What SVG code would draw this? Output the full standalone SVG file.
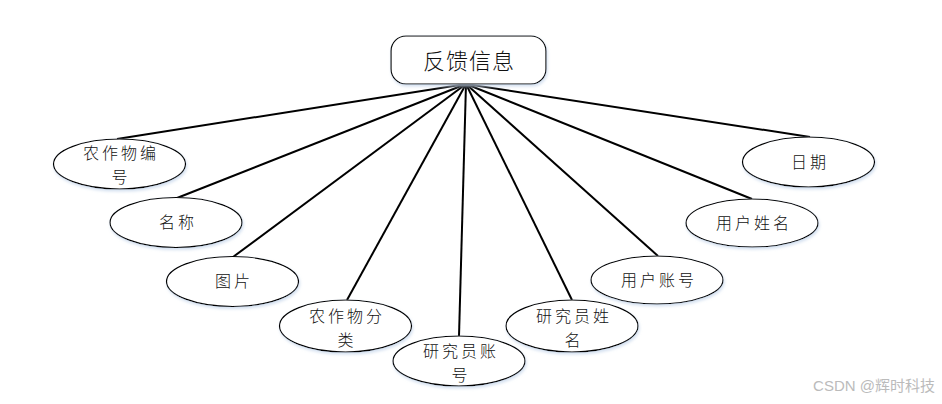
<svg xmlns="http://www.w3.org/2000/svg" width="942" height="404" viewBox="0 0 942 404">
<defs>
<filter id="glow" x="-20%" y="-20%" width="140%" height="140%">
<feDropShadow dx="1" dy="2" stdDeviation="1.5" flood-color="#c8d8ec" flood-opacity="0.8"/>
</filter>
</defs>
<style>
.edge{stroke:#000;stroke-width:2;fill:none}
.ell{fill:#fff;stroke:#000;stroke-width:1.2;filter:url(#glow)}
.lbl{font-family:"Noto Sans CJK SC","Liberation Sans",sans-serif;font-size:16px;font-weight:300;fill:#111;text-anchor:middle;letter-spacing:3px}
.title{font-family:"Noto Sans CJK SC","Liberation Sans",sans-serif;font-size:22px;font-weight:300;fill:#111;text-anchor:middle;letter-spacing:1px}
.wm{font-family:"Liberation Sans","Noto Sans CJK SC",sans-serif;font-size:15px;fill:#bbb;text-anchor:end}
</style>
<rect width="942" height="404" fill="#fff"/>
<g id="connectors">
<line class="edge" x1="466" y1="84" x2="117" y2="139"/>
<line class="edge" x1="466" y1="84" x2="177" y2="198"/>
<line class="edge" x1="466" y1="84" x2="233" y2="257"/>
<line class="edge" x1="466" y1="84" x2="347" y2="300"/>
<line class="edge" x1="466" y1="84" x2="459" y2="336"/>
<line class="edge" x1="466" y1="84" x2="572" y2="300"/>
<line class="edge" x1="466" y1="84" x2="658" y2="256"/>
<line class="edge" x1="466" y1="84" x2="752" y2="199"/>
<line class="edge" x1="466" y1="84" x2="810" y2="137"/>
</g>
<g id="feedback">
<rect x="391" y="36" width="155" height="48" rx="15" fill="#fff" stroke="#000" stroke-width="1.2" filter="url(#glow)"/>
<text class="title" x="469" y="69">反馈信息</text>
</g>
<g id="crop_no">
<ellipse class="ell" cx="119.5" cy="164" rx="66" ry="25"/>
<text class="lbl" x="121" y="159">农作物编</text>
<text class="lbl" x="121" y="183">号</text>
</g>
<g id="name">
<ellipse class="ell" cx="176" cy="222.5" rx="66" ry="25"/>
<text class="lbl" x="178" y="228">名称</text>
</g>
<g id="picture">
<ellipse class="ell" cx="232.5" cy="281.5" rx="66" ry="25"/>
<text class="lbl" x="234" y="287">图片</text>
</g>
<g id="crop_cat">
<ellipse class="ell" cx="345.5" cy="326" rx="66" ry="26"/>
<text class="lbl" x="347" y="322">农作物分</text>
<text class="lbl" x="347" y="346">类</text>
</g>
<g id="res_no">
<ellipse class="ell" cx="459" cy="361" rx="66" ry="25"/>
<text class="lbl" x="461" y="357">研究员账</text>
<text class="lbl" x="461" y="381">号</text>
</g>
<g id="res_name">
<ellipse class="ell" cx="572" cy="326" rx="66" ry="26"/>
<text class="lbl" x="574" y="322">研究员姓</text>
<text class="lbl" x="574" y="346">名</text>
</g>
<g id="user_no">
<ellipse class="ell" cx="657" cy="280" rx="66" ry="24"/>
<text class="lbl" x="659" y="286">用户账号</text>
</g>
<g id="user_name">
<ellipse class="ell" cx="752" cy="223" rx="66" ry="24"/>
<text class="lbl" x="754" y="229">用户姓名</text>
</g>
<g id="date">
<ellipse class="ell" cx="808.5" cy="162" rx="66" ry="25"/>
<text class="lbl" x="810" y="168">日期</text>
</g>
<text class="wm" x="935" y="391">CSDN @辉时科技</text>
</svg>
